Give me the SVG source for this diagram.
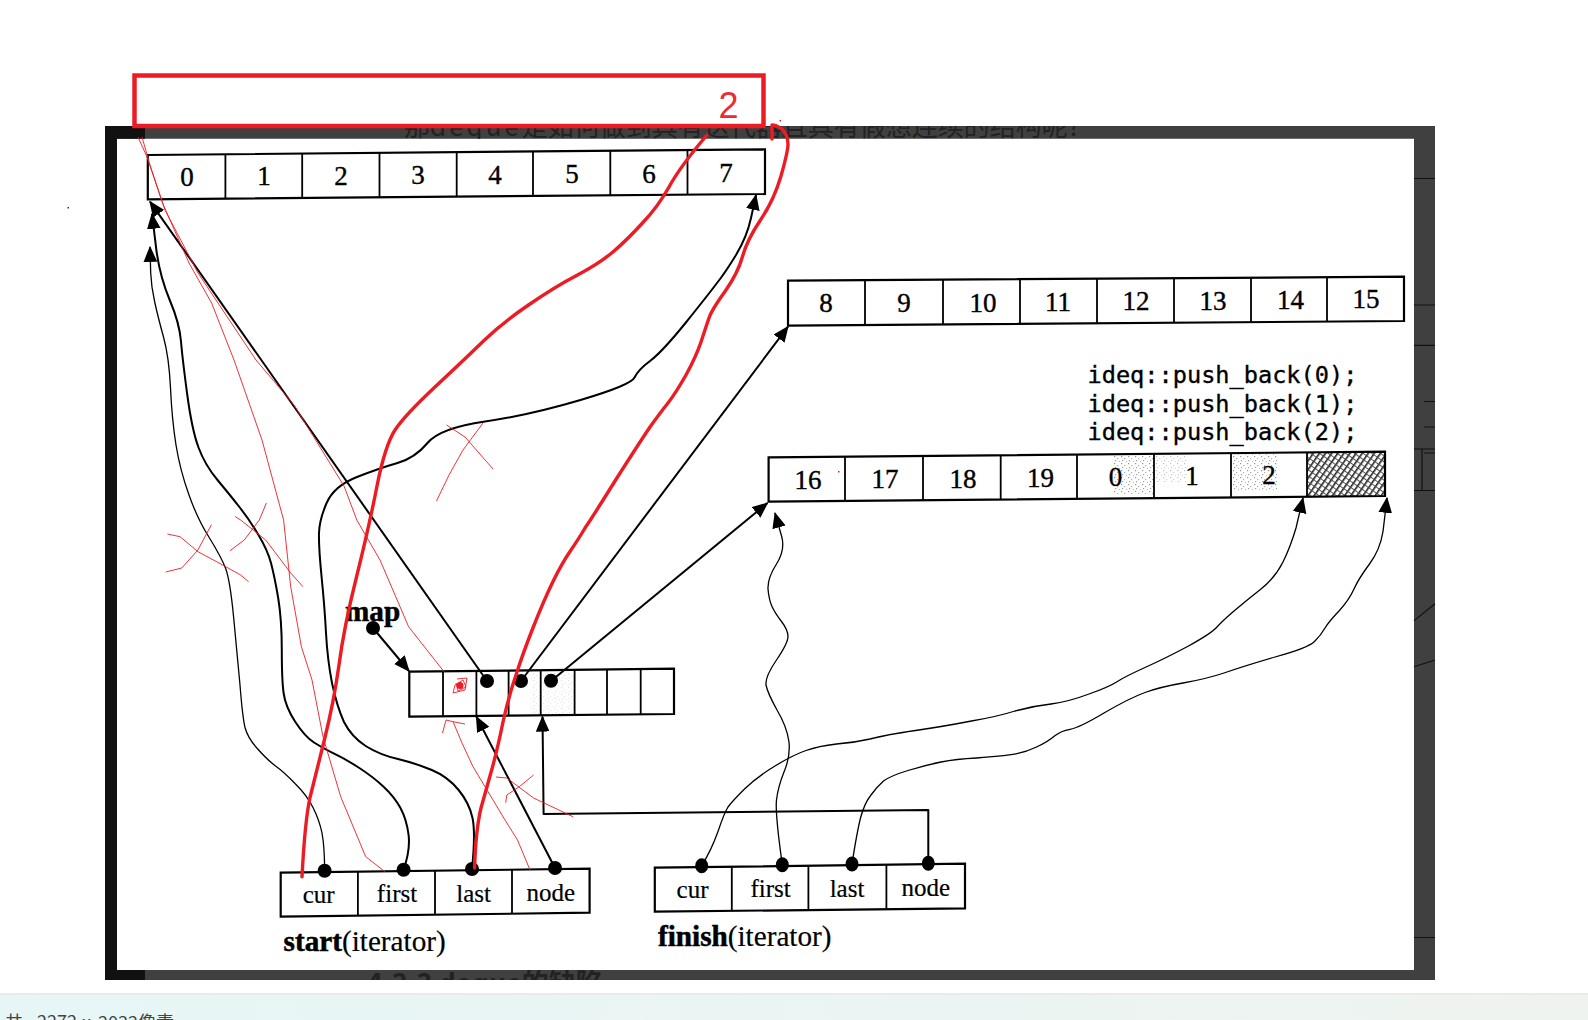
<svg xmlns="http://www.w3.org/2000/svg" width="1588" height="1020" viewBox="0 0 1588 1020">
<style>
.box{fill:none;stroke:#000;stroke-width:2.2;stroke-linejoin:miter}
.div{fill:none;stroke:#000;stroke-width:1.8}
.num{font-family:"Liberation Serif",serif;font-size:27px;text-anchor:middle;fill:#000;stroke:#000;stroke-width:.4}
.lab{font-family:"Liberation Serif",serif;font-size:25px;text-anchor:middle;fill:#000;stroke:#000;stroke-width:.2}
.cap{font-family:"Liberation Serif",serif;font-size:29.2px;fill:#000;stroke:#000;stroke-width:.2}
.b{font-weight:bold;stroke-width:.5}
.mono{font-family:"DejaVu Sans Mono",monospace;font-size:23.6px;fill:#000;stroke:#000;stroke-width:.35}
.ln{fill:none;stroke:#000;stroke-width:2;stroke-linejoin:round}
.thin{fill:none;stroke:#000;stroke-width:1.3;stroke-linejoin:round}
.arr{marker-end:url(#head)}
.red{fill:none;stroke:#ed1c24;stroke-width:3.4;stroke-linecap:round;stroke-linejoin:round}
.rt{fill:none;stroke:#ed1c24;stroke-width:.9;stroke-linejoin:round}
.gl{fill:none;stroke:#111;stroke-width:1.2}
</style>
<defs>
<marker id="head" markerUnits="userSpaceOnUse" markerWidth="16" markerHeight="14" viewBox="0 0 14 12" refX="13" refY="6" orient="auto"><path d="M0 0L14 6L0 12Z" fill="#000"/></marker>
<pattern id="dots" width="7" height="7" patternUnits="userSpaceOnUse"><rect x="1" y="1" width="1.2" height="1.2" fill="#666"/><rect x="4" y="3" width="1.2" height="1.2" fill="#888"/><rect x="2" y="5" width="1.2" height="1.2" fill="#777"/><rect x="6" y="6" width="1" height="1" fill="#999"/></pattern>
<pattern id="hatch" width="5" height="5" patternUnits="userSpaceOnUse" patternTransform="rotate(-55)"><rect width="5" height="5" fill="#fff"/><rect width="5" height="1.6" fill="#222"/><rect width=".9" height="5" fill="#444"/></pattern>
<linearGradient id="bar" x1="0" x2="1" y1="0" y2="0"><stop offset="0" stop-color="#e6f6f6"/><stop offset="1" stop-color="#eff3f0"/></linearGradient>
<clipPath id="topband"><rect x="145" y="126" width="1290" height="12.7"/></clipPath>
<clipPath id="botband"><rect x="145" y="970" width="1290" height="10"/></clipPath>
</defs>
<rect width="1588" height="1020" fill="#fff"/>
<g id="frame">
<path fill="#404040" fill-rule="evenodd" d="M105 126H1435V980H105ZM117 138.7V970H1414V138.7Z"/>
<path fill="#111" d="M105 126H145V138.7H117V970H145V980H105Z"/>
<text clip-path="url(#topband)" x="404" y="136" font-family="Noto Sans CJK SC,sans-serif" font-size="26" fill="#222">那<tspan letter-spacing="3">deque</tspan>是如何做到具有迭代器且具有假想连续的结构呢?</text>
<text clip-path="url(#botband)" x="367" y="993" font-family="Noto Sans CJK SC,sans-serif" font-size="27" font-weight="bold" fill="#222">4.3.3 deque的缺陷</text>
<path class="gl" d="M1414 178.5H1435M1414 305H1435M1414 345.3H1435M1424 401.5H1435M1424 427H1435M1424 453H1435M1414 449H1435M1414 490.5H1435M1422 449V490M1414 620.6L1435 603.8M1414 666.7L1435 660M1414 937.5H1435"/>
</g>
<rect x="67.500" y="207" width="1.500" height="1.500" fill="#333"/>
<g id="buffer-0">
<path class="box" d="M147.800 155L765 149.300V194L147.800 199.300Z"/>
<path class="div" d="M225.400 154.300V198.600M302.200 153.600V197.900M379.500 152.900V197.200M456.700 152.200V196.500M533 151.500V195.800M610.300 150.800V195.100M687.500 150V194.400"/>
<text class="num" x="187" y="186">0</text><text class="num" x="264" y="185">1</text><text class="num" x="341" y="185">2</text><text class="num" x="418" y="184">3</text><text class="num" x="495" y="184">4</text><text class="num" x="572" y="183">5</text><text class="num" x="649" y="183">6</text><text class="num" x="726" y="182">7</text>
</g>
<g id="buffer-1">
<path class="box" d="M788 280.700L1404 276.700V321L788 325.700Z"/>
<path class="div" d="M865 280.200V325M943 279.700V324.500M1020 279.200V324M1097 278.700V323.400M1174 278.200V322.900M1251 277.700V322.300M1327 277.200V321.700"/>
<text class="num" x="826" y="311.700">8</text><text class="num" x="904" y="311.500">9</text><text class="num" x="983" y="311.500">10</text><text class="num" x="1058" y="310.700">11</text><text class="num" x="1136" y="310">12</text><text class="num" x="1213" y="309.500">13</text><text class="num" x="1290.500" y="309">14</text><text class="num" x="1366" y="308">15</text>
</g>
<g id="buffer-2">
<rect x="1113" y="454" width="40" height="40" fill="url(#dots)" opacity=".7"/>
<rect x="1155" y="454" width="32" height="28" fill="url(#dots)" opacity=".4"/>
<rect x="1233" y="454" width="44" height="36" fill="url(#dots)" opacity=".7"/>
<path fill="url(#hatch)" d="M1307 452.300H1385V496H1307Z"/>
<path class="box" d="M768.600 457.300L1385 451.700V496L768.600 501.700Z"/>
<path class="div" d="M845 456.600V501M923 455.900V500.300M1000.700 455.200V499.600M1077 454.500V498.900M1154 453.800V498.200M1231 453.100V497.500M1307 452.400V496.800"/>
<text class="num" x="808" y="489">16</text><text class="num" x="885" y="488">17</text><text class="num" x="963" y="487.700">18</text><text class="num" x="1040.500" y="487">19</text><text class="num" x="1115.500" y="486">0</text><text class="num" x="1192" y="485">1</text><text class="num" x="1269" y="484">2</text>
</g>
<g id="push-back-code">
<text class="mono" x="1087.500" y="383.300">ideq::push_back(0);</text>
<text class="mono" x="1087.500" y="411.700">ideq::push_back(1);</text>
<text class="mono" x="1087.500" y="440">ideq::push_back(2);</text>
</g>
<g id="map">
<rect x="530" y="672" width="44" height="42" fill="url(#dots)" opacity=".2"/>
<path class="box" d="M409.300 671.700L674 668.700V714L409.300 716.700Z"/>
<path class="div" d="M443 671.300V716.300M476.400 671V716M508.600 670.600V715.600M540.700 670.300V715.300M574.600 670V715M607 669.600V714.700M640.700 669.200V714.300"/>
<text class="cap b" x="345" y="620.700">map</text>
<circle cx="373" cy="628" r="7"/>
<circle cx="487" cy="681" r="7"/><circle cx="521" cy="681" r="7"/><circle cx="551" cy="680.700" r="7"/>
</g>
<g id="start-iterator">
<path class="box" d="M280.700 872.700L589.600 868.700V912.700L280.700 916.700Z"/>
<path class="div" d="M357.900 871.700V915.700M435 870.700V914.700M512 869.700V913.700"/>
<text class="lab" x="318.600" y="903">cur</text><text class="lab" x="397" y="902">first</text><text class="lab" x="473.600" y="901.700">last</text><text class="lab" x="550.700" y="900.600">node</text>
<text class="cap" x="283.600" y="950.700"><tspan class="b">start</tspan>(iterator)</text>
<circle cx="324.600" cy="870.700" r="7"/><circle cx="403.600" cy="869.700" r="7"/><circle cx="472" cy="869" r="7"/><circle cx="555" cy="868" r="7"/>
</g>
<g id="finish-iterator">
<path class="box" d="M654.800 867.700L965 863.700V908.300L654.800 911.700Z"/>
<path class="div" d="M731.800 866.700V910.900M808.400 865.700V910M886.400 864.700V909.300"/>
<text class="lab" x="692.500" y="898">cur</text><text class="lab" x="770.600" y="897">first</text><text class="lab" x="847" y="896.700">last</text><text class="lab" x="925.700" y="895.700">node</text>
<text class="cap" x="658" y="945.700"><tspan class="b">finish</tspan>(iterator)</text>
<ellipse cx="701.700" cy="865.700" rx="6.500" ry="7.500"/><ellipse cx="782.300" cy="864.700" rx="6.500" ry="7.500"/><ellipse cx="852" cy="864" rx="6.500" ry="7.500"/><ellipse cx="928.300" cy="863.300" rx="6.500" ry="7.500"/>
</g>
<g id="connectors">
<path class="thin arr" d="M324.600 870.700Q324.600 847 322 833Q319.300 820 313 807.500Q306.800 795 295 783.500Q283.600 771.700 275.500 766Q267.500 760 257.700 749Q247.900 738.300 245 727.500Q242.500 716.700 240 685Q237 653 233.500 616Q230 580 225.500 568Q221 556.700 209.500 538Q197.900 520 189 495Q180 470 176 445Q172 420 170.500 388Q169 357 163.500 337Q158 317 154.700 302Q151.300 287 150.700 273L150 247"/>
<path class="ln arr" d="M403.600 869.700Q410.400 850 408.600 835Q406.800 820 400.500 808Q394.300 796.700 383.600 786.700Q372.900 776.700 358.600 767.500Q344.300 758.300 333.600 753.300Q322.900 748.300 314 742.500Q305 736.700 295.200 721.700Q285.400 706.700 283.600 693Q281.800 680 281.800 650Q281.800 620 278.200 598Q274.600 576.700 271 563Q267.500 550 258.500 535Q249.600 520 239.800 507.500Q230 495 217.500 480Q205 465 198.500 447.500Q192 430 187.300 395Q182.600 360 181 341.500Q179.500 323 169.700 300Q160 276.700 156.500 251L152 214"/>
<path class="ln arr" d="M472 869Q475.700 833 472.500 818Q469.300 803 458.600 790Q447.900 776.700 431.800 770Q415.700 763.300 398 759Q380 755 365.700 746Q351.400 736.700 344 722Q337 706.700 332 683Q327.500 660 326 633Q324.600 606.700 321.600 577Q318.600 546.700 319 533Q319.300 520 326.600 503Q334 486 357 477Q380 468 397.500 463Q415 458 427.500 443Q440 428 485 421.500Q530 415 580.500 400Q631 385 634.500 377.500Q638 370 650 361Q662 352 685.500 323Q709 293.700 717 283Q725 273 736 255Q747 236.700 751 218L756 195"/>
<path class="ln arr" d="M487 681L150 201.700"/>
<path class="ln arr" d="M521 681L788 326.700"/>
<path class="ln arr" d="M551 681L767.500 503"/>
<path class="ln arr" d="M373 628L409 671"/>
<path class="ln arr" d="M555 868L476.400 716.700"/>
<path class="ln arr" d="M928.300 863V810L543.600 814L542.500 716.700"/>
<path class="thin arr" d="M782.300 864.700Q775 813 776.500 800Q778 787 784 772Q790.500 756.700 789 742Q787 726.700 777 710Q767.600 693 766 685Q765 676.700 776.500 660Q788 643 788 636.500Q788 630 781.500 621.500Q775 613 772 606.500Q769 600 768 589Q767.500 578 776.500 564Q785.400 550 781.700 536.500L775 513"/>
<path class="thin arr" d="M701.700 865.700Q711.400 850 718 831.500Q724.200 813 728 807Q731.800 801.700 744.500 789Q757.300 776.700 775 766Q793 755 806 750.500Q818.600 746 836.500 744Q854.300 742.700 870 739Q885 735 915.500 730.500Q946 726 971.500 721Q997 716.700 1015 711Q1032.900 706 1051 704Q1068.600 701.700 1089 694Q1109.400 686.700 1117 681.700Q1124.700 676.700 1145 667.500Q1165.500 658.300 1188.500 646Q1211.400 633.300 1216.500 627.500Q1221.600 621.700 1234 611Q1247 600 1261 589Q1275 578 1283 562Q1290.500 546.700 1296 528L1303 498"/>
<path class="thin arr" d="M852 864Q856.800 833 860.500 818Q864.500 803 871 795Q877 786.700 883.500 781Q890 776 908 770.500Q925.700 765 941 762Q956 759 976.500 758Q997 756.700 1011 754.700Q1025 752.700 1036.500 747Q1048 741.700 1054.500 736Q1061 730.700 1070 729.300Q1078.800 728 1104 713Q1129.800 698 1145 692.500Q1160 687 1183 683Q1206 679 1224 673Q1242 666.700 1275 657Q1308 648 1314.500 641.500Q1321 635 1325 628Q1328.800 621.700 1339 611Q1349 600 1354 589Q1359 578 1369.500 564Q1380 550 1383 531.500L1387 498"/>
</g>
<g id="annotations">
<rect x="134.500" y="75.500" width="629" height="50.500" fill="none" stroke="#ed1c24" stroke-width="4.500"/>
<text x="728.500" y="118" font-family="Liberation Sans,sans-serif" font-size="36" text-anchor="middle" fill="#ed2a35">2</text>
<path class="red" d="M302 876.700Q305 820 310 797.500Q315.700 775 324.600 739Q333.600 703 339 665Q344 626.700 356.500 577Q369 526.700 377 486Q385 445.600 395 430Q405 415 435.500 386.500Q466 358 484 340.500Q502 323 528.500 305Q555 286.700 577.500 275Q600 263 613.500 251.500Q627 240 642.500 223Q658 206.700 669 187Q680 166.700 707 135"/>
<path class="red" d="M474.600 868Q475.700 830 481 808Q487 786.700 492.500 767Q498 746.700 503 722Q508.600 696.700 516 675Q523 653 533.500 626.500Q544 600 553 581.500Q562 563 571 550Q580 536.700 585 528Q590.700 520 615 481Q640 441.700 650 427Q660 413 668 403Q675.700 393 686 375Q696 356.700 701 342Q706 326.700 709 318Q711.600 310 725 291.500Q738 273 742.500 256.500Q747 240 760.500 220Q774 200 781 176Q787.500 153 788 145Q788 135 782 129Q776 125 772 125L772 139"/>
<path class="rt" d="M138 137L147 157L162.500 203L189 263L211.600 303L234 360L262 440L283.600 520L290.700 586.700L301.400 646.700L312 680L323 736.700L340.700 796.700L365.700 856.700L385 871.700"/>
<path class="rt" d="M142 137L150 165L165 210L198 273L256 360L294 405L344 486L356.800 520L380 560L408.600 626.700L444 671.700"/>
<path class="rt" d="M442.500 733L446 720L453 721.700L465 724M453 721.700L462 743L473 766.700L487 790L505 820L517.500 840L530 870"/>
<path class="rt" d="M167.500 534L180 536.700L198 551.700L219 563L240.700 575L248.600 581.700M165.700 572L181.800 568L197.900 550L211.400 524.700"/>
<path class="rt" d="M230 550.700L244.300 540L259.300 520L266.400 503M235 516.500L240.700 520L265.700 540L290.700 573L303 586.700"/>
<path class="rt" d="M446.600 425L465 437L493 469M483 423L463 450L449 475L436.500 501"/>
<path class="rt" d="M496 777L506.800 778L533.600 798L572.900 816.700M533.600 775L519.300 786.700L506.800 795L505.700 802.700"/>
<path class="rt" d="M457 679L467 678L465 690L453 693L455 685L463 680L466 687L458 691L456 683"/>
<circle cx="460" cy="685.500" r="3.500" fill="#ed1c24"/>
<rect x="779.500" y="120" width="1.500" height="1.500" fill="#ed1c24"/>
<rect x="838" y="471" width="1.500" height="1.500" fill="#ed1c24"/>
</g>
<g id="status-bar">
<rect x="0" y="993" width="1588" height="27" fill="url(#bar)"/>
<rect x="0" y="993" width="1588" height="2" fill="#ebebeb"/>
<text y="1029" font-family="Noto Sans CJK SC,sans-serif" font-size="18" fill="#444"><tspan x="5">共</tspan><tspan x="37">2272</tspan><tspan x="82">x</tspan><tspan x="98">2032像素</tspan></text>
</g>
</svg>
